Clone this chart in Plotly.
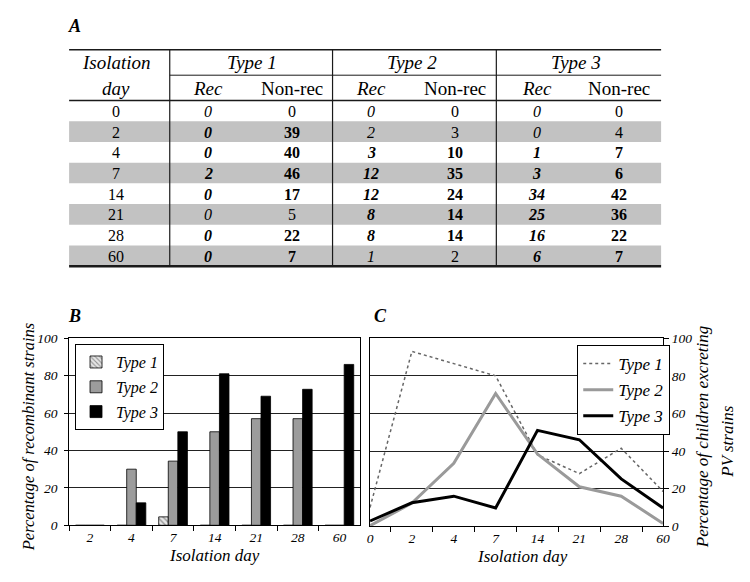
import plotly.graph_objects as go

W, H = 750, 582
SERIF = "'Liberation Serif', 'Times New Roman', Times, serif"

# ---------------- Panel A: table data ----------------
days = [0, 2, 4, 7, 14, 21, 28, 60]
type1_rec = [0, 0, 0, 2, 0, 0, 0, 0]
type1_nonrec = [0, 39, 40, 46, 17, 5, 22, 7]
type2_rec = [0, 2, 3, 12, 12, 8, 8, 1]
type2_nonrec = [0, 3, 10, 35, 24, 14, 14, 2]
type3_rec = [0, 0, 1, 3, 34, 25, 16, 6]
type3_nonrec = [0, 4, 7, 6, 42, 36, 22, 7]
type1_bold = [False, True, True, True, True, False, True, True]
type2_bold = [False, False, True, True, True, True, True, False]
type3_bold = [False, False, True, True, True, True, True, True]
type_names = ["Type 1", "Type 2", "Type 3"]

# ---------------- Panel B: bar data ----------------
bar_days = ["2", "4", "7", "14", "21", "28", "60"]
pct_rec_type1 = [0, 0, 4.5, 0, 0, 0, 0]
pct_rec_type2 = [0, 30, 34.3, 50, 57, 57, 0]
pct_rec_type3 = [0, 12, 50, 81, 69, 72.7, 86]

# ---------------- Panel C: line data ----------------
line_days = ["0", "2", "4", "7", "14", "21", "28", "60"]
pct_child_type1 = [10, 93, 86.5, 80, 38, 28, 41.5, 18.5]
pct_child_type2 = [0.3, 12.3, 33.5, 70.6, 38.4, 21, 16, 1.5]
pct_child_type3 = [2.8, 12.5, 16, 9.7, 51, 46, 25.2, 9.7]


def X(p):
    return p / W


def Y(p):
    return 1 - p / H


fig = go.Figure()

# Panel B bars
fig.add_trace(go.Bar(
    x=bar_days, y=pct_rec_type1, name="Type 1", xaxis="x", yaxis="y",
    legend="legend", legendgroup="b1",
    marker=dict(color="#e0e0e0", line=dict(color="black", width=0.8),
                pattern=dict(shape="\\", fgcolor="#444", bgcolor="#e6e6e6", size=4, solidity=0.35)),
))
fig.add_trace(go.Bar(
    x=bar_days, y=pct_rec_type2, name="Type 2", xaxis="x", yaxis="y",
    legend="legend", legendgroup="b2",
    marker=dict(color="#9c9c9c", line=dict(color="black", width=0.8)),
))
fig.add_trace(go.Bar(
    x=bar_days, y=pct_rec_type3, name="Type 3", xaxis="x", yaxis="y",
    legend="legend", legendgroup="b3",
    marker=dict(color="black", line=dict(color="black", width=0.8)),
))

# Panel C lines
fig.add_trace(go.Scatter(
    x=line_days, y=pct_child_type1, name="Type 1", mode="lines", xaxis="x2", yaxis="y2",
    legend="legend2", legendgroup="c1",
    line=dict(color="#666666", width=1.5, dash="dot"),
))
fig.add_trace(go.Scatter(
    x=line_days, y=pct_child_type2, name="Type 2", mode="lines", xaxis="x2", yaxis="y2",
    legend="legend2", legendgroup="c2",
    line=dict(color="#9a9a9a", width=3),
))
fig.add_trace(go.Scatter(
    x=line_days, y=pct_child_type3, name="Type 3", mode="lines", xaxis="x2", yaxis="y2",
    legend="legend2", legendgroup="c3",
    line=dict(color="black", width=3),
))

# ---------------- Table drawing ----------------
shapes = []
annotations = []

row_top = 96.0
row_h = 21.25
tab_left, tab_right = 67, 667

for i in range(len(days)):
    if i % 2 == 1:
        shapes.append(dict(type="rect", xref="paper", yref="paper",
                           x0=X(tab_left), x1=X(tab_right),
                           y0=Y(row_top + row_h * i), y1=Y(row_top + row_h * (i + 1)),
                           fillcolor="#c2c2c2", line=dict(width=0), layer="below"))


def hline(y, x0, x1, w):
    shapes.append(dict(type="line", xref="paper", yref="paper",
                       x0=X(x0), x1=X(x1), y0=Y(y), y1=Y(y),
                       line=dict(color="#1a1a1a", width=w)))


def vline(x, y0, y1, w):
    shapes.append(dict(type="line", xref="paper", yref="paper",
                       x0=X(x), x1=X(x), y0=Y(y0), y1=Y(y1),
                       line=dict(color="#1a1a1a", width=w)))


table_bottom = row_top + row_h * len(days)
hline(44, tab_left, tab_right, 1.5)
hline(70, 169, tab_right, 1)
hline(row_top, tab_left, tab_right, 1.5)
hline(table_bottom, tab_left, tab_right, 2.5)
for vx in (169, 334, 500):
    vline(vx, 44, table_bottom, 1.2)


def txt(x, y, s, size, angle=0, anchor="center"):
    annotations.append(dict(x=X(x), y=Y(y), xref="paper", yref="paper", text=s,
                            showarrow=False, xanchor=anchor, yanchor="middle",
                            textangle=angle,
                            font=dict(family=SERIF, size=size, color="black")))


# panel labels
txt(72, 20, "<b><i>A</i></b>", 18)
txt(72, 317, "<b><i>B</i></b>", 18)
txt(383, 317, "<b><i>C</i></b>", 18)

# headers
txt(115, 57, "<i>Isolation</i>", 19)
txt(115, 84, "<i>day</i>", 19)
type_centers = [252, 415, 581]
rec_x = [208, 373, 541]
non_x = [293, 458, 624]
for k in range(3):
    txt(type_centers[k], 57, "<i>" + type_names[k] + "</i>", 19)
    txt(rec_x[k], 84, "<i>Rec</i>", 19)
    txt(non_x[k], 84, "Non-rec", 19)

rec_cols = [type1_rec, type2_rec, type3_rec]
non_cols = [type1_nonrec, type2_nonrec, type3_nonrec]
bold_cols = [type1_bold, type2_bold, type3_bold]
for i, d in enumerate(days):
    yc = row_top + row_h * (i + 0.5) + 0.5
    txt(115, yc, str(d), 16)
    for k in range(3):
        b = bold_cols[k][i]
        r = "<i>%d</i>" % rec_cols[k][i]
        n = "%d" % non_cols[k][i]
        if b:
            r = "<b>" + r + "</b>"
            n = "<b>" + n + "</b>"
        txt(rec_x[k], yc, r, 16)
        txt(non_x[k], yc, n, 16)

# axis titles
txt(214, 563, "<i>Isolation day</i>", 17)
txt(26, 442, "<i>Percentage of recombinant strains</i>", 16.5, angle=-90)
txt(527, 564, "<i>Isolation day</i>", 17)
txt(709, 442, "<i>Percentage of children excreting</i>", 17, angle=-90)
txt(734, 446, "<i>PV strains</i>", 17, angle=-90)

tickfont = dict(family=SERIF, size=13.5, style="italic", color="black")
axis_common = dict(showline=True, linecolor="black", linewidth=1, mirror=True,
                   ticks="outside", tickcolor="black", tickfont=tickfont)

fig.update_layout(
    width=W, height=H, autosize=False,
    margin=dict(l=0, r=0, t=0, b=0),
    paper_bgcolor="white", plot_bgcolor="white",
    font=dict(family=SERIF, color="black"),
    barmode="group", bargap=0.31, bargroupgap=0,
    xaxis=dict(domain=[X(67), X(362)], anchor="y", type="category",
               tickson="boundaries", ticklen=5, showgrid=False, **axis_common),
    yaxis=dict(domain=[Y(532), Y(340)], anchor="x", range=[0, 100], dtick=20,
               showgrid=True, gridcolor="#222", gridwidth=1, zeroline=False,
               ticklen=4, ticklabelstandoff=4, **axis_common),
    xaxis2=dict(domain=[X(372), X(669)], anchor="y2", type="category",
                tickson="boundaries", ticklen=5, showgrid=False, **axis_common),
    yaxis2=dict(domain=[Y(533), Y(340)], anchor="x2", side="right", range=[0, 100], dtick=20,
                showgrid=True, gridcolor="#222", gridwidth=1, zeroline=False,
                ticklen=5, **axis_common),
    legend=dict(x=X(73), y=Y(346), xanchor="left", yanchor="top",
                bordercolor="black", borderwidth=1, bgcolor="white",
                font=dict(family=SERIF, size=16, style="italic", color="black"),
                tracegroupgap=1, traceorder="grouped"),
    legend2=dict(x=X(582), y=Y(347), xanchor="left", yanchor="top",
                 bordercolor="black", borderwidth=1, bgcolor="white",
                 font=dict(family=SERIF, size=17, style="italic", color="black"),
                 tracegroupgap=1, traceorder="grouped", itemwidth=30),
    shapes=shapes,
    annotations=annotations,
    showlegend=True,
)

fig.write_html(
    "out.html",
    config={"displayModeBar": False},
    post_script="document.body.style.margin='0';document.body.style.overflow='hidden';",
)
